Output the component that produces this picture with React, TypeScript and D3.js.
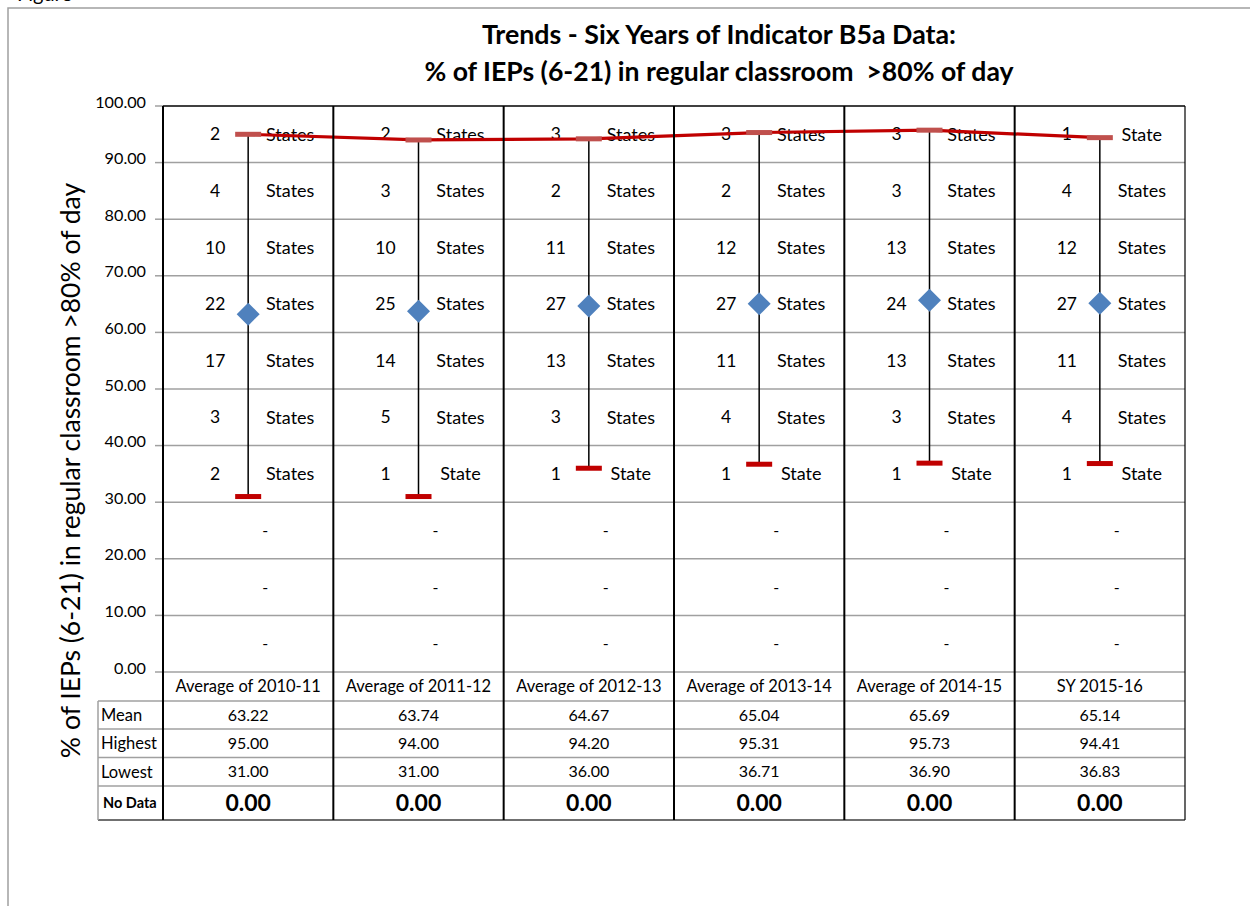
import React from 'react';
import * as d3 from 'd3';

const categories = ['Average of 2010-11', 'Average of 2011-12', 'Average of 2012-13', 'Average of 2013-14', 'Average of 2014-15', 'SY 2015-16'];
const means = [63.22, 63.74, 64.67, 65.04, 65.69, 65.14];
const highs = [95.0, 94.0, 94.2, 95.31, 95.73, 94.41];
const lows = [31.0, 31.0, 36.0, 36.71, 36.9, 36.83];
const noData = [0, 0, 0, 0, 0, 0];

// number of states in each 10-point band, top band (90-100) first, down to 30-40
const stateCounts = [
  [2, 4, 10, 22, 17, 3, 2],
  [2, 3, 10, 25, 14, 5, 1],
  [3, 2, 11, 27, 13, 3, 1],
  [3, 2, 12, 27, 11, 4, 1],
  [3, 3, 13, 24, 13, 3, 1],
  [1, 4, 12, 27, 11, 4, 1],
];
const bandTops = [100, 90, 80, 70, 60, 50, 40, 30, 20, 10];
const yTicks = [0, 10, 20, 30, 40, 50, 60, 70, 80, 90, 100];
const rowLabels = ['Mean', 'Highest', 'Lowest', 'No Data'];

const FONT = "Lato, 'Open Sans', sans-serif";
const W = 1250;
const H = 906;
const left = 163;
const right = 1185;
const top = 106;
const bottom = 672;

export default function App() {
  const x = d3.scaleBand<string>().domain(categories).range([left, right]);
  const y = d3.scaleLinear().domain([0, 100]).range([bottom, top]);
  const cx = (c: string) => (x(c) as number) + x.bandwidth() / 2;
  const fmt = d3.format('.2f');

  const highLine = d3.line<number>()
    .x((_, i) => cx(categories[i]))
    .y(d => y(d));

  // table geometry
  const rowEdges = [bottom, 701, 729, 757.5, 786, 820];
  const labelLeft = 98;
  const boundaries = categories.map(c => x(c) as number).concat([right]);

  const grid = '#a0a0a0';

  return (
    <svg width={W} height={H} style={{ position: 'absolute', left: 0, top: 0, background: '#fff' }} fontFamily={FONT}>
      {/* outer frame, figure caption mostly above the page */}
      <text x={17} y={1} fontSize={20}>Figure</text>
      <path d={`M8,${H} V8 H${W}`} fill="none" stroke={grid} strokeWidth={1.5} />

      {/* title */}
      <text x={719} y={44} textAnchor="middle" fontSize={26.8} fontWeight="bold">
        Trends - Six Years of Indicator B5a Data:
      </text>
      <text x={719} y={81} textAnchor="middle" fontSize={26.6} fontWeight="bold" style={{ whiteSpace: 'pre' }}>
        {'% of IEPs (6-21) in regular classroom  >80% of day'}
      </text>

      {/* y axis title */}
      <text transform="translate(80,470.5) rotate(-90)" textAnchor="middle" fontSize={26.5}>
        % of IEPs (6-21) in regular classroom &gt;80% of day
      </text>

      {/* gridlines + ticks */}
      {yTicks.map(t => (
        <g key={t}>
          <line x1={left} x2={right} y1={y(t)} y2={y(t)} stroke={t === 100 ? '#000' : grid} strokeWidth={1.5} />
          <line x1={155} x2={left} y1={y(t)} y2={y(t)} stroke={grid} strokeWidth={1.5} />
          <text x={146} y={y(t)} dy="0.1em" textAnchor="end" fontSize={16.2}>{fmt(t)}</text>
        </g>
      ))}

      {/* band labels */}
      {categories.map((c, ci) => bandTops.map((bt, bi) => {
        const yy = y(bt - 5);
        const n = stateCounts[ci][bi];
        if (n === undefined) {
          return (
            <text key={`${c}-${bt}`} x={cx(c) + 17} y={yy} dy="0.35em" textAnchor="middle" fontSize={16}>-</text>
          );
        }
        return (
          <g key={`${c}-${bt}`}>
            <text x={cx(c) - 33} y={yy} dy="0.35em" textAnchor="middle" fontSize={17.5}>{n}</text>
            <text x={cx(c) + 42} y={yy} dy="0.35em" textAnchor="middle" fontSize={18}>{n === 1 ? 'State' : 'States'}</text>
          </g>
        );
      }))}

      {/* high-low lines */}
      {categories.map((c, i) => (
        <line key={c} x1={cx(c)} x2={cx(c)} y1={y(highs[i])} y2={y(lows[i])} stroke="#000" strokeWidth={1.5} />
      ))}

      {/* trend of highs */}
      <path d={highLine(highs) as string} fill="none" stroke="#c00000" strokeWidth={3.2} strokeLinejoin="round" />
      {categories.map((c, i) => (
        <g key={c}>
          <rect x={cx(c) - 13} y={y(highs[i]) - 2.5} width={26} height={5} fill="#c0504d" />
          <rect x={cx(c) - 13} y={y(lows[i]) - 2.5} width={26} height={5} fill="#c00000" />
          <path
            d={`M${cx(c)},${y(means[i]) - 11.5} l11.5,11.5 l-11.5,11.5 l-11.5,-11.5 Z`}
            fill="#4f81bd"
          />
        </g>
      ))}

      {/* data table */}
      {rowEdges.slice(1).map((e, i) => (
        <line key={e} x1={labelLeft} x2={right} y1={e} y2={e} stroke={i === rowEdges.length - 2 ? '#404040' : grid} strokeWidth={1.5} />
      ))}
      <line x1={labelLeft} x2={labelLeft} y1={rowEdges[1]} y2={rowEdges[5]} stroke={grid} strokeWidth={1.5} />
      {rowLabels.map((r, i) => (
        <text
          key={r}
          x={r === 'No Data' ? 103 : 101}
          y={(rowEdges[i + 1] + rowEdges[i + 2]) / 2}
          dy="0.35em"
          fontSize={r === 'No Data' ? 14.5 : 16.5}
          fontWeight={r === 'No Data' ? 'bold' : 'normal'}
        >{r}</text>
      ))}
      {categories.map((c, i) => {
        const vals = [means[i], highs[i], lows[i]];
        return (
          <g key={c}>
            <text x={cx(c)} y={(rowEdges[0] + rowEdges[1]) / 2} dy="0.35em" textAnchor="middle" fontSize={16.5}>{c}</text>
            {vals.map((v, k) => (
              <text key={k} x={cx(c)} y={(rowEdges[k + 1] + rowEdges[k + 2]) / 2} dy="0.35em" textAnchor="middle" fontSize={16}>{fmt(v)}</text>
            ))}
            <text x={cx(c)} y={(rowEdges[4] + rowEdges[5]) / 2} dy="0.36em" textAnchor="middle" fontSize={23} fontWeight="bold">{fmt(noData[i])}</text>
          </g>
        );
      })}

      {/* column separators */}
      {boundaries.map((b, i) => (
        <line key={i} x1={b} x2={b} y1={top} y2={rowEdges[5]} stroke="#000" strokeWidth={i === boundaries.length - 1 ? 1.2 : 2} />
      ))}
    </svg>
  );
}
